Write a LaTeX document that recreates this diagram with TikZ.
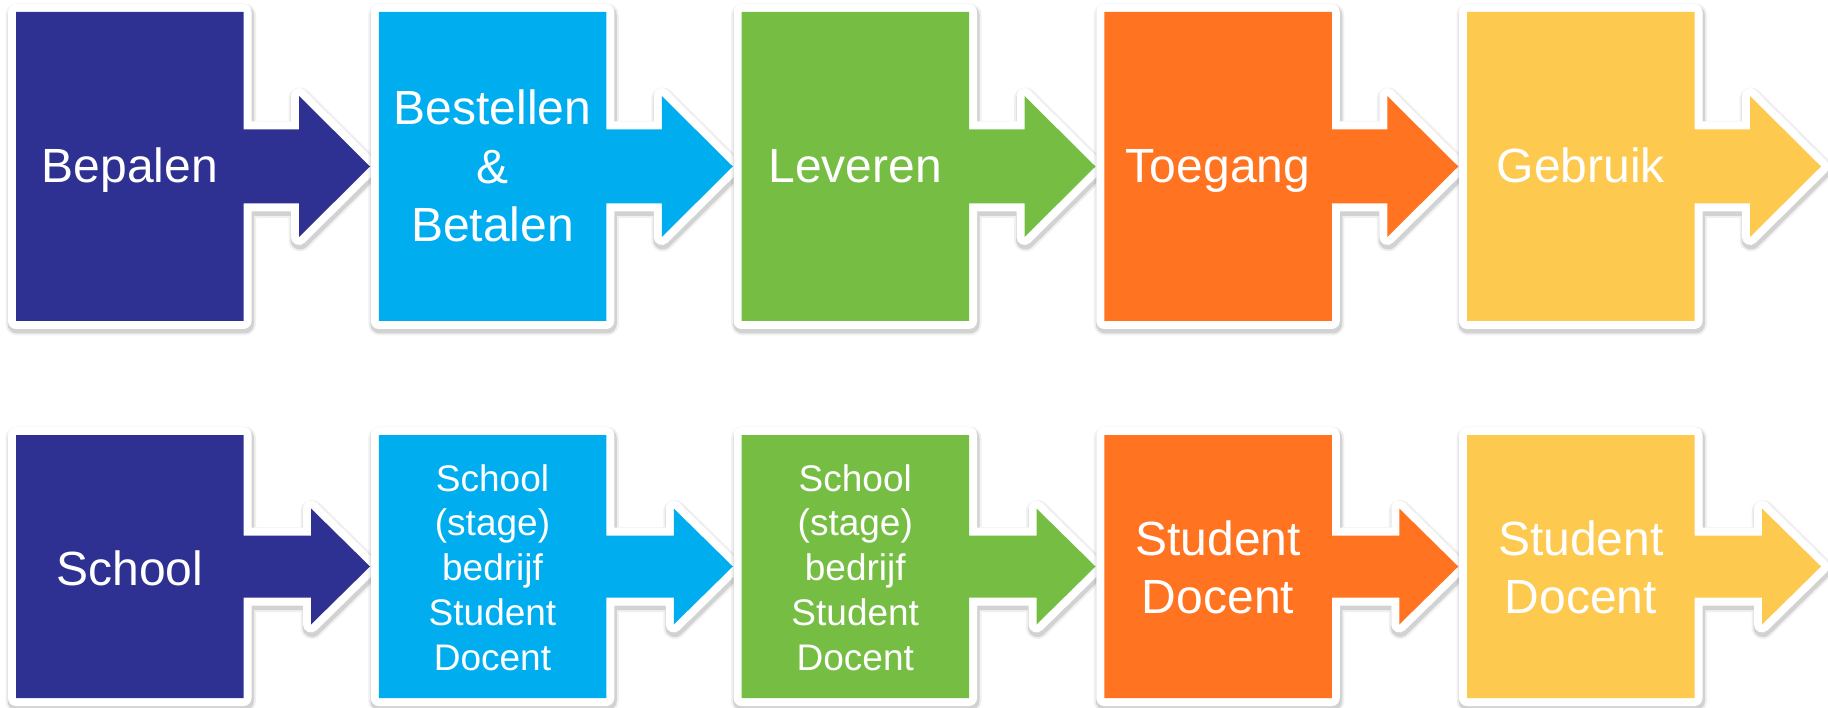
\documentclass[tikz,border=0pt]{standalone}
\usepackage{fontspec}
\setmainfont{Liberation Sans}
\definecolor{cblue}{HTML}{2E3192}
\definecolor{ccyan}{HTML}{00AEEF}
\definecolor{cgreen}{HTML}{76BE43}
\definecolor{corange}{HTML}{FF7321}
\definecolor{cyellow}{HTML}{FEC94F}
\tikzset{
  shapeborder/.style={draw=white, line width=16pt, line join=round, fill=white},
  shapeshadowA/.style={draw=black, line width=23pt, line join=round, opacity=0.06, xshift=1pt, yshift=-3pt},
  shapeshadowB/.style={draw=black, line width=19pt, line join=round, opacity=0.12, xshift=1pt, yshift=-3pt},
  bigtxt/.style={text=white, align=center, font=\fontsize{48}{58.3}\selectfont, inner sep=0pt},
  smalltxt/.style={text=white, align=center, font=\fontsize{37}{44.75}\selectfont, inner sep=0pt},
}
% #1 x0, #2 top, #3 bottom, #4 stem half, #5 head start offset, #6 head half, #7 colour
\newcommand\procshape[7]{%
  \def\procpath{(#1,#2) -- ({#1+227.5},#2) -- ({#1+227.5},{(#2+#3)/2-#4}) -- ({#1+#5},{(#2+#3)/2-#4}) -- ({#1+#5},{(#2+#3)/2-#6}) -- ({#1+354},{(#2+#3)/2}) -- ({#1+#5},{(#2+#3)/2+#6}) -- ({#1+#5},{(#2+#3)/2+#4}) -- ({#1+227.5},{(#2+#3)/2+#4}) -- ({#1+227.5},#3) -- (#1,#3) -- cycle}%
  \path[shapeshadowA] \procpath;
  \path[shapeshadowB] \procpath;
  \path[shapeborder] \procpath;
  \path[fill=#7] \procpath;
}
\begin{document}
\begin{tikzpicture}[x=1pt,y=-1pt]
\useasboundingbox[fill=white] (0,0) rectangle (1828,708);
% top row
\procshape{16}{12}{321}{37}{283}{70.5}{cblue}
\procshape{378.75}{12}{321}{37}{283}{70.5}{ccyan}
\procshape{741.5}{12}{321}{37}{283}{70.5}{cgreen}
\procshape{1104.25}{12}{321}{37}{283}{70.5}{corange}
\procshape{1467}{12}{321}{37}{283}{70.5}{cyellow}
% bottom row
\procshape{16}{435}{698}{31}{295}{58}{cblue}
\procshape{378.75}{435}{698}{31}{295}{58}{ccyan}
\procshape{741.5}{435}{698}{31}{295}{58}{cgreen}
\procshape{1104.25}{435}{698}{31}{295}{58}{corange}
\procshape{1467}{435}{698}{31}{295}{58}{cyellow}
% texts
\node[bigtxt, anchor=base] (t1) at (129.75,183) {Bepalen};
\node[bigtxt] (t2) at (492.5,166) {Bestellen\\\&\\Betalen};
\node[bigtxt, anchor=base] (t3) at (855.25,183) {Leveren};
\node[bigtxt, anchor=base] (t4) at (1218,183) {Toegang};
\node[bigtxt, anchor=base] (t5) at (1580.75,183) {Gebruik};
\node[bigtxt, anchor=base] (b1) at (129.75,585) {School};
\node[smalltxt] (b2) at (492.5,567.5) {School\\(stage)\\bedrijf\\Student\\Docent};
\node[smalltxt] (b3) at (855.25,567.5) {School\\(stage)\\bedrijf\\Student\\Docent};
\node[bigtxt] (b4) at (1218,567) {Student\\Docent};
\node[bigtxt] (b5) at (1580.75,567) {Student\\Docent};
\end{tikzpicture}
\end{document}
